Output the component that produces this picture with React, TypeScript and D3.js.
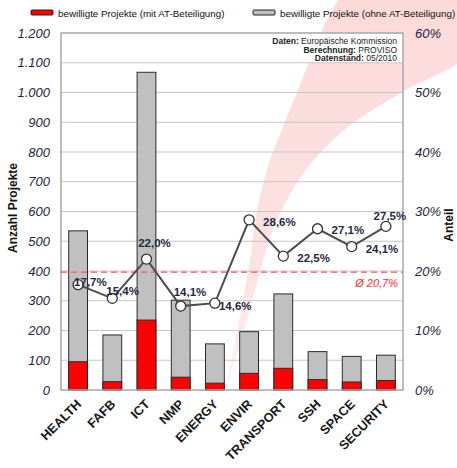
import React from "react";
import * as d3 from "d3";

// Werte
const categories = ["HEALTH", "FAFB", "ICT", "NMP", "ENERGY", "ENVIR", "TRANSPORT", "SSH", "SPACE", "SECURITY"];
const totalProjects = [535, 185, 1068, 302, 155, 196, 323, 129, 113, 117];
const atProjects = [95, 28, 235, 43, 23, 56, 73, 35, 27, 32];
const atShare = [17.7, 15.4, 22.0, 14.1, 14.6, 28.6, 22.5, 27.1, 24.1, 27.5];
const countTicks = [0, 100, 200, 300, 400, 500, 600, 700, 800, 900, 1000, 1100, 1200];
const shareTicks = [0, 10, 20, 30, 40, 50, 60];
const avgShare = 20.7;
const avgLineLevel = 19.8; // position of the dashed line as drawn in the picture
const legendLabels = ["bewilligte Projekte (mit AT-Beteiligung)", "bewilligte Projekte (ohne AT-Beteiligung)"];

// label placement around each point: [dx, dy, anchor]
const labelPos: [number, number, string][] = [
  [-4, 1, "start"], [-6, -3, "start"], [8, -12, "middle"], [-7, -10, "start"], [4, 7, "start"],
  [14, 6, "start"], [14, 6, "start"], [14, 5, "start"], [14, 6, "start"], [4, -6, "middle"],
];

const W = 457, H = 468;
const m = { left: 61, right: 403, top: 33, bottom: 390 };
const font = "'Liberation Sans', Arial, sans-serif";
const tickColor = "#1c2544";

// decorative pink swoosh in the background
const swooshLeft: [number, number][] = [[338, 0], [322, 30], [310, 60], [283, 127], [270, 160], [257, 210], [250, 260], [239, 320], [225, 393]];
const swooshRight: [number, number][] = [[225, 393], [247, 320], [263, 260], [274, 227], [291, 193], [314, 160], [348, 127], [402, 92], [470, 52], [480, 0]];

const deNum = (v: number) => d3.format(",")(v).replace(/,/g, ".");
const dePct = (v: number) => d3.format(".1f")(v).replace(".", ",") + "%";

export default function App() {
  const x = d3.scaleBand<string>().domain(categories).range([m.left, m.right]).paddingInner(0.45).paddingOuter(0.225);
  const y = d3.scaleLinear().domain([0, 1200]).range([m.bottom, m.top]);
  const yPct = d3.scaleLinear().domain([0, 60]).range([m.bottom, m.top]);
  const cx = (c: string) => (x(c) ?? 0) + x.bandwidth() / 2;

  const line = d3.line<number>().x((_, i) => cx(categories[i])).y((v) => yPct(v));
  const swoosh = d3.line().curve(d3.curveCatmullRom);
  const swooshPath = swoosh(swooshLeft)! + swoosh(swooshRight)!.replace("M", "L") + "Z";

  return (
    <svg width={W} height={H} style={{ position: "absolute", left: 0, top: 0, background: "#fff" }} fontFamily={font}>
      <defs>
        <linearGradient id="pink" x1="0" y1="0" x2="0" y2="1">
          <stop offset="0" stopColor="#fcdada" />
          <stop offset="0.7" stopColor="#fde3e3" />
          <stop offset="1" stopColor="#fff2f2" />
        </linearGradient>
      </defs>
      <path d={swooshPath} fill="url(#pink)" />

      {/* info box area */}
      <rect x={m.left} y={m.top} width={m.right - m.left} height={y(1100) - m.top} fill="#fff" />

      {/* gridlines */}
      {countTicks.slice(1, -1).map((t) => (
        <line key={t} x1={m.left} x2={m.right} y1={y(t)} y2={y(t)} stroke="#c6c6c6" strokeWidth={1.2} />
      ))}

      {/* bars */}
      {categories.map((c, i) => (
        <g key={c}>
          <rect x={x(c)} y={y(totalProjects[i])} width={x.bandwidth()} height={y(0) - y(totalProjects[i])} fill="#c0c0c0" stroke="#2b2b2b" strokeWidth={1} />
          <rect x={x(c)} y={y(atProjects[i])} width={x.bandwidth()} height={y(0) - y(atProjects[i])} fill="#ff0000" stroke="#2b2b2b" strokeWidth={1} />
        </g>
      ))}

      {/* plot border */}
      <rect x={m.left} y={m.top} width={m.right - m.left} height={m.bottom - m.top} fill="none" stroke="#a8a8a8" strokeWidth={1.5} />

      {/* average line */}
      <line x1={m.left} x2={m.right} y1={yPct(avgLineLevel)} y2={yPct(avgLineLevel)} stroke="#ff5050" strokeWidth={1.3} strokeDasharray="6,4" />
      <text x={m.right - 5} y={yPct(avgLineLevel) + 15} textAnchor="end" fontSize={11} fontStyle="italic" fill="#ff2a2a">
        {"Ø " + dePct(avgShare)}
      </text>

      {/* share line */}
      <path d={line(atShare)!} fill="none" stroke="#4d4d4d" strokeWidth={2} />
      {atShare.map((v, i) => (
        <circle key={i} cx={cx(categories[i])} cy={yPct(v)} r={5} fill="#fff" stroke="#333" strokeWidth={1.3} />
      ))}
      {atShare.map((v, i) => (
        <text key={i} x={cx(categories[i]) + labelPos[i][0]} y={yPct(v) + labelPos[i][1]} textAnchor={labelPos[i][2]}
          fontSize={11.5} fontWeight="bold" fill="#1f2a44">
          {dePct(v)}
        </text>
      ))}

      {/* left axis */}
      {countTicks.map((t) => (
        <text key={t} x={50} y={y(t) + 4.5} textAnchor="end" fontSize={13} fontStyle="italic" fill={tickColor}>
          {deNum(t)}
        </text>
      ))}
      <text transform="translate(17,208) rotate(-90)" textAnchor="middle" fontSize={12} fontWeight="bold" fill="#111">
        Anzahl Projekte
      </text>

      {/* right axis */}
      {shareTicks.map((t) => (
        <text key={t} x={415} y={yPct(t) + 4.5} textAnchor="start" fontSize={13} fontStyle="italic" fill={tickColor}>
          {t + "%"}
        </text>
      ))}
      <text transform="translate(453,225) rotate(-90)" textAnchor="middle" fontSize={12} fontWeight="bold" fill="#111">
        Anteil
      </text>

      {/* category labels */}
      {categories.map((c) => (
        <text key={c} transform={`translate(${cx(c) + 4},${m.bottom + 15}) rotate(-45)`} textAnchor="end" fontSize={12.8} fontWeight="bold" fill="#1a1a1a">
          {c}
        </text>
      ))}

      {/* info box text */}
      <g fontSize={8.5} textAnchor="end" fill="#222">
        <text x={397} y={44}><tspan fontWeight="bold">Daten: </tspan>Europäische Kommission</text>
        <text x={397} y={52.5}><tspan fontWeight="bold">Berechnung: </tspan>PROVISO</text>
        <text x={397} y={61}><tspan fontWeight="bold">Datenstand: </tspan>05/2010</text>
      </g>

      {/* legend */}
      {legendLabels.map((l, i) => (
        <g key={l} transform={`translate(${i === 0 ? 31 : 253},0)`}>
          <rect x={0} y={10} width={22} height={5} rx={1} fill={i === 0 ? "#ff0000" : "#c0c0c0"} stroke="#222" strokeWidth={1} />
          <text x={27} y={17} fontSize={9.8} fill="#111">{l}</text>
        </g>
      ))}
    </svg>
  );
}
